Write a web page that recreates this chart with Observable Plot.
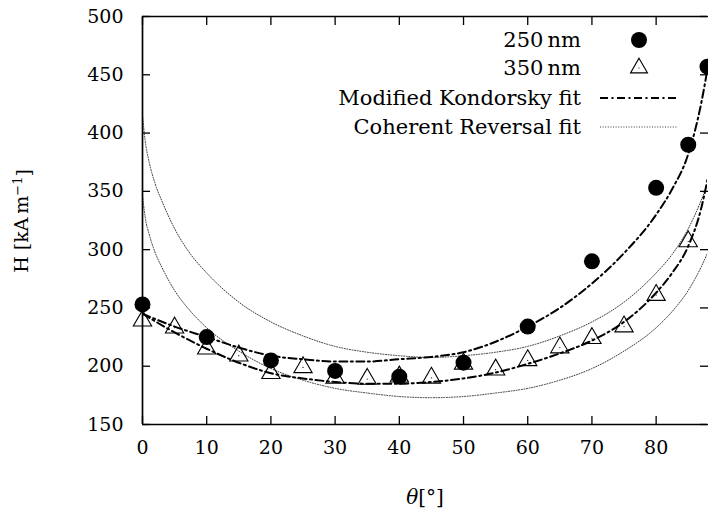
<!DOCTYPE html>
<html><head><meta charset="utf-8">
<script src="https://cdn.jsdelivr.net/npm/d3@7"></script>
<script src="https://cdn.jsdelivr.net/npm/@observablehq/plot@0.6"></script>
<style>body{margin:0;background:#fff} svg{display:block}</style>
</head><body><div id="chart"></div>
<script>
// measured points
const angles250 = [0, 10, 20, 30, 40, 50, 60, 70, 80, 85, 88];
const h250 = [253, 225, 205, 196, 191, 203, 234, 290, 353, 390, 457];
const angles350 = [0, 5, 10, 15, 20, 25, 30, 35, 40, 45, 50, 55, 60, 65, 70, 75, 80, 85];
const h350 = [239, 233, 215, 209, 194, 199, 190, 189, 191, 190, 202, 197, 205, 216, 224, 234, 261, 307];
// Modified Kondorsky fits
const kondAngles = [0, 5, 10, 15, 20, 25, 30, 35, 40, 45, 50, 55, 60, 65, 70, 75, 80, 82.5, 85, 87, 88];
const kond250 = [245, 234, 225, 216, 209, 206, 204, 204, 206, 208, 212, 221, 234, 250, 271, 297, 330, 352, 382, 425, 455];
const kond350 = [245, 229, 215, 203, 194, 189.5, 186.5, 185, 185, 186.5, 189.5, 194.5, 202, 211, 222, 238, 263, 280, 303, 335, 360];
// Coherent reversal fits
const cohAngles = [0, 0.5, 1, 2, 3, 5, 7.5, 10, 15, 20, 25, 30, 35, 40, 45, 50, 55, 60, 65, 70, 75, 80, 82.5, 85, 87, 88];
const coh250 = [415, 390, 376, 356, 342, 318, 296, 280, 255, 238, 226, 217, 212, 209, 207.5, 209, 212, 217, 226, 238, 255, 280, 296, 318, 342, 356];
const coh350 = [346, 325, 314, 297, 285, 265, 247, 233, 213, 198, 188, 181, 177, 174, 173, 174, 177, 181, 188, 198, 213, 233, 247, 265, 285, 297];
// ticks
const xTicks = [0, 10, 20, 30, 40, 50, 60, 70, 80];
const yTicks = [150, 200, 250, 300, 350, 400, 450, 500];
const legendLabels = ["250\u2009nm", "350\u2009nm", "Modified Kondorsky fit", "Coherent Reversal fit"];

const pts250 = angles250.map((a, i) => ({a, h: h250[i]}));
const pts350 = angles350.map((a, i) => ({a, h: h350[i]}));
const k250 = kondAngles.map((a, i) => ({a, h: kond250[i]}));
const k350 = kondAngles.map((a, i) => ({a, h: kond350[i]}));
const c250 = cohAngles.map((a, i) => ({a, h: coh250[i]}));
const c350 = cohAngles.map((a, i) => ({a, h: coh350[i]}));

const FONT = "DejaVu Serif";
const W = 708, H = 514;
const dashDot = "8,3.5,2,3.5";
const dotted = "1,1.6";

const plot = Plot.plot({
  width: W, height: H,
  marginLeft: 142, marginRight: 1, marginTop: 16, marginBottom: 90,
  style: {fontFamily: FONT, fontSize: "19px", color: "black", background: "white"},
  x: {domain: [0, 88]},
  y: {domain: [150, 500]},
  marks: [
    Plot.line(c250, {x: "a", y: "h", curve: "monotone-x", stroke: "#222", strokeWidth: 0.9, strokeDasharray: dotted, clip: true}),
    Plot.line(c350, {x: "a", y: "h", curve: "monotone-x", stroke: "#222", strokeWidth: 0.9, strokeDasharray: dotted, clip: true}),
    Plot.line(k250, {x: "a", y: "h", curve: "monotone-x", stroke: "black", strokeWidth: 2, strokeDasharray: dashDot, clip: true}),
    Plot.line(k350, {x: "a", y: "h", curve: "monotone-x", stroke: "black", strokeWidth: 2, strokeDasharray: dashDot, clip: true}),
    Plot.dot(pts350, {x: "a", y: "h", symbol: "triangle", r: 6.8, stroke: "black", strokeWidth: 1.1, fill: "none"}),
    Plot.dot(pts350, {x: "a", y: "h", r: 0.6, fill: "black"}),
    Plot.dot(pts250, {x: "a", y: "h", r: 8, fill: "black"}),
    Plot.ruleX([0], {strokeWidth: 1.7}),
    Plot.ruleY([150, 500], {strokeWidth: 1.7}),
    Plot.axisX(xTicks, {anchor: "bottom", tickSize: -8, tickPadding: 24, strokeWidth: 1.3, label: null}),
    Plot.axisX(xTicks, {anchor: "top", tickSize: -8, strokeWidth: 1.3, tickFormat: () => "", label: null}),
    Plot.axisY(yTicks, {anchor: "left", tickSize: -8, tickPadding: 27, strokeWidth: 1.3, label: null}),
    Plot.axisY(yTicks, {anchor: "right", tickSize: -8, strokeWidth: 1.3, tickFormat: () => "", label: null})
  ]
});

document.getElementById("chart").appendChild(plot);
const svg = d3.select(plot);

// y-axis label
const yl = svg.append("text")
  .attr("transform", "translate(21,221) rotate(-90)")
  .attr("text-anchor", "middle").attr("dy", "0.35em")
  .attr("font-family", FONT).attr("font-size", 19).attr("fill", "black");
yl.append("tspan").text("H [kA\u2009m");
yl.append("tspan").attr("dy", "-0.45em").attr("font-size", 13).text("\u22121");
yl.append("tspan").attr("dy", "0.45em").text("]");

// x-axis label
const xl = svg.append("text")
  .attr("x", 425).attr("y", 497).attr("text-anchor", "middle").attr("dy", "0.35em")
  .attr("font-family", FONT).attr("font-size", 20).attr("fill", "black");
xl.append("tspan").attr("font-style", "italic").text("\u03b8");
xl.append("tspan").text("[°]");

// legend
const lg = svg.append("g").attr("font-family", FONT).attr("font-size", 21).attr("fill", "black");
const rowsY = [40, 68, 98, 127];
legendLabels.forEach((t, i) => {
  lg.append("text").attr("x", 581).attr("y", rowsY[i]).attr("dy", "0.35em").attr("text-anchor", "end").text(t);
});
lg.append("circle").attr("cx", 639).attr("cy", rowsY[0]).attr("r", 8).attr("fill", "black");
lg.append("path").attr("transform", `translate(639,${rowsY[1]})`)
  .attr("d", d3.symbol(d3.symbolTriangle, Math.PI * 6.3 * 6.3)())
  .attr("fill", "none").attr("stroke", "black").attr("stroke-width", 1.1);
lg.append("circle").attr("cx", 639).attr("cy", rowsY[1]).attr("r", 0.6).attr("fill", "black");
lg.append("line").attr("x1", 600).attr("x2", 678).attr("y1", rowsY[2]).attr("y2", rowsY[2])
  .attr("stroke", "black").attr("stroke-width", 2).attr("stroke-dasharray", dashDot);
lg.append("line").attr("x1", 600).attr("x2", 678).attr("y1", rowsY[3]).attr("y2", rowsY[3])
  .attr("stroke", "#222").attr("stroke-width", 0.9).attr("stroke-dasharray", dotted);
</script>
</body></html>
